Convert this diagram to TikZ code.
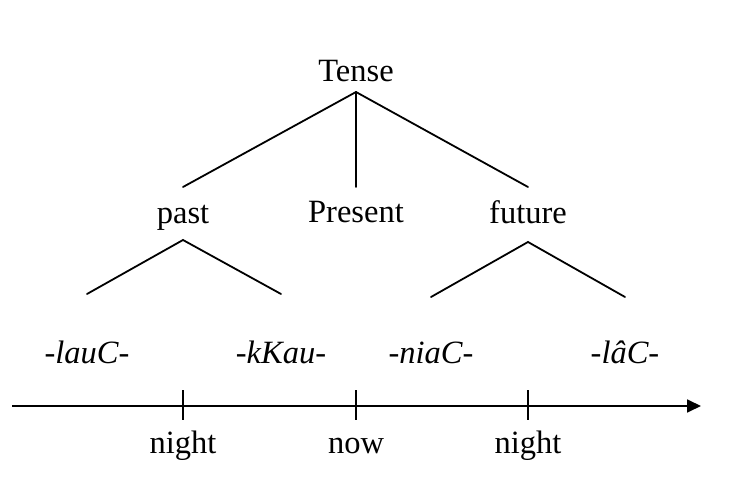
\documentclass[tikz,border=0pt]{standalone}
\usepackage{fontspec}
\setmainfont{Liberation Serif}
\usetikzlibrary{calc,arrows.meta}
\begin{document}
\begin{tikzpicture}[x=1pt,y=1pt,
  lbl/.style={anchor=base,inner sep=0pt,font=\fontsize{32.5}{38}\selectfont},
  morph/.style={lbl,font=\fontsize{32.5}{38}\selectfont\itshape},
  branch/.style={line width=1.8pt,line cap=round},
  tick/.style={line width=1.8pt}]
\useasboundingbox (0,0) rectangle (738,484);
% tree labels
\node[lbl] (tense) at (356,402) {Tense};
\node[lbl] (past) at (183,260) {past};
\node[lbl] (present) at (356,261) {Present};
\node[lbl] (future) at (528,260) {future};
% morphemes
\node[morph] (lauc) at (87,120) {-lauC-};
\node[morph] (kkau) at (281,120) {-kKau-};
\node[morph] (niac) at (431,120) {-niaC-};
\node[morph] (lac) at (625,120) {-lâC-};
% tree branches
\coordinate (tapex) at ($(tense.base)+(0,-10)$);
\draw[branch] (tapex) -- ($(past.base)+(0,37)$);
\draw[branch] (tapex) -- ($(present.base)+(0,36)$);
\draw[branch] (tapex) -- ($(future.base)+(0,37)$);
\coordinate (papex) at ($(past.base)+(0,-16)$);
\draw[branch] ($(lauc.base)+(0,70)$) -- (papex) -- ($(kkau.base)+(0,70)$);
\coordinate (fapex) at ($(future.base)+(0,-18)$);
\draw[branch] ($(niac.base)+(0,67)$) -- (fapex) -- ($(lac.base)+(0,67)$);
% time axis
\coordinate (astart) at (12,78);
\coordinate (aend) at (701,78);
\draw[line width=1.8pt,-{Triangle[length=14pt,width=13pt]}] (astart) -- (aend);
\node[lbl] (night1) at (183,30) {night};
\node[lbl] (now) at (356,30) {now};
\node[lbl] (night2) at (528,30) {night};
\draw[tick] ($(night1.base)+(0,34)$) -- ($(night1.base)+(0,64)$);
\draw[tick] ($(now.base)+(0,34)$) -- ($(now.base)+(0,64)$);
\draw[tick] ($(night2.base)+(0,34)$) -- ($(night2.base)+(0,64)$);
\end{tikzpicture}
\end{document}
